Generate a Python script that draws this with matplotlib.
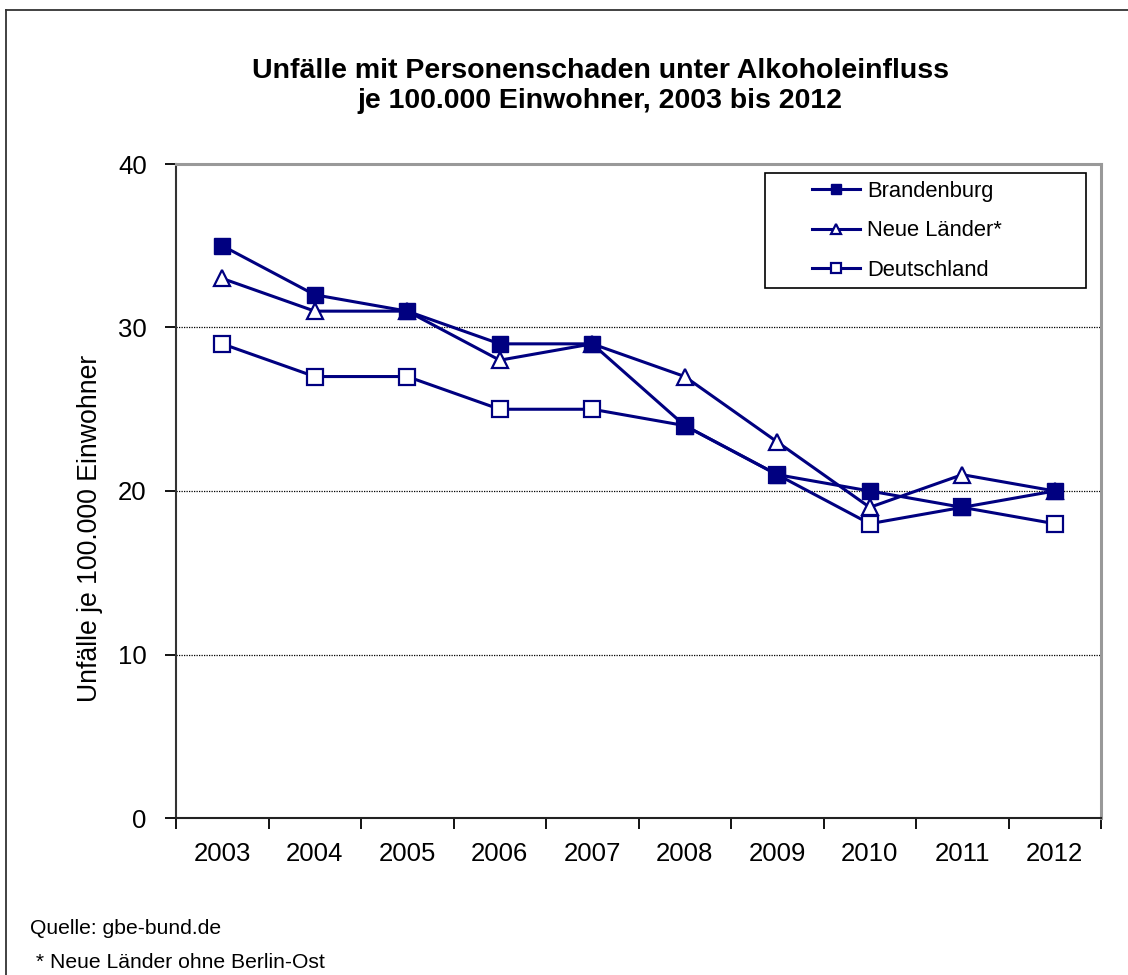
import matplotlib
matplotlib.use("Agg")
import matplotlib.pyplot as plt
from matplotlib.patches import Rectangle
from matplotlib.lines import Line2D

plt.rcParams['font.family'] = ['Liberation Sans', 'DejaVu Sans']

years = ['2003', '2004', '2005', '2006', '2007', '2008', '2009', '2010', '2011', '2012']
brandenburg = [35, 32, 31, 29, 29, 24, 21, 20, 19, 20]
neue_laender = [33, 31, 31, 28, 29, 27, 23, 19, 21, 20]
deutschland = [29, 27, 27, 25, 25, 24, 21, 18, 19, 18]
yticks = [0, 10, 20, 30, 40]
gridvals = [10, 20, 30]

title = "Unfälle mit Personenschaden unter Alkoholeinfluss\nje 100.000 Einwohner, 2003 bis 2012"
ylabel = "Unfälle je 100.000 Einwohner"
labels = ["Brandenburg", "Neue Länder*", "Deutschland"]
source = "Quelle: gbe-bund.de"
footnote = " * Neue Länder ohne Berlin-Ost"

W, H = 1128, 975
fig = plt.figure(figsize=(W / 100, H / 100), dpi=100)
fig.patch.set_facecolor('white')

def fx(px):
    return px / W

def fy(py):
    return 1 - py / H

# outer frame (left and top edges visible)
fig.add_artist(Line2D([fx(6), fx(6)], [fy(10), -0.01], transform=fig.transFigure,
                      color='#333333', lw=1.3))
fig.add_artist(Line2D([fx(6), 1.01], [fy(10), fy(10)], transform=fig.transFigure,
                      color='#333333', lw=1.3))

left, right, top, bottom = 176, 1101, 164, 818
ax = fig.add_axes([fx(left), fy(bottom), fx(right - left), (bottom - top) / H])

navy = '#000080'
x = list(range(len(years)))

for g in gridvals:
    ax.axhline(g, color='black', lw=0.9, linestyle=(0, (1, 1)), zorder=1)

ax.plot(x, deutschland, color=navy, lw=2.2, marker='s', ms=11.5, mfc='white',
        mec=navy, mew=1.6, zorder=3, label=labels[2])
ax.plot(x, neue_laender, color=navy, lw=2.2, marker='^', ms=12, mfc='white',
        mec=navy, mew=1.6, zorder=4, label=labels[1])
ax.plot(x, brandenburg, color=navy, lw=2.2, marker='s', ms=12, mfc=navy,
        mec=navy, mew=1, zorder=5, label=labels[0])

ax.set_xlim(-0.5, len(years) - 0.5)
ax.set_ylim(0, 40)
ax.set_yticks(yticks)
ax.set_yticklabels([str(v) for v in yticks], fontsize=18.5)
ax.tick_params(axis='y', direction='out', length=8, width=1.3, pad=13, colors='black')
ax.set_xticks([i - 0.5 for i in range(len(years) + 1)])
ax.set_xticklabels([])
ax.set_xticks(x, minor=True)
ax.set_xticklabels(years, minor=True, fontsize=18.5)
ax.tick_params(axis='x', which='major', direction='out', length=8, width=1.3)
ax.tick_params(axis='x', which='minor', length=0, pad=17)

for s in ['top', 'right']:
    ax.spines[s].set_color('#999999')
    ax.spines[s].set_linewidth(2.2)
ax.spines['left'].set_color('#333333')
ax.spines['left'].set_linewidth(1.5)
ax.spines['bottom'].set_color('#222222')
ax.spines['bottom'].set_linewidth(1.5)

# legend
handles, lbls = ax.get_legend_handles_labels()
order = [2, 1, 0]
leg = fig.legend([handles[i] for i in order], [lbls[i] for i in order],
                 loc='center', bbox_to_anchor=(fx(907), fy(231)),
                 frameon=False, fontsize=15.8, handlelength=2.2, handletextpad=0.3,
                 labelspacing=0.85, markerscale=0.6, borderpad=0)
fig.add_artist(Rectangle((fx(765), fy(288)), fx(1086 - 765), (288 - 173) / H,
                         transform=fig.transFigure, fill=False, edgecolor='black', lw=1.2))

fig.text(fx(600), fy(86), title, ha='center', va='center', fontsize=20.5,
         fontweight='bold', linespacing=1.16)
fig.text(fx(90), fy(528), ylabel, rotation=90, ha='center', va='center', fontsize=19.2)
fig.text(fx(30), fy(928), source, ha='left', va='center', fontsize=15.2)
fig.text(fx(30), fy(963), footnote, ha='left', va='center', fontsize=15.2)

fig.savefig('out.png', dpi=100, facecolor='white')
